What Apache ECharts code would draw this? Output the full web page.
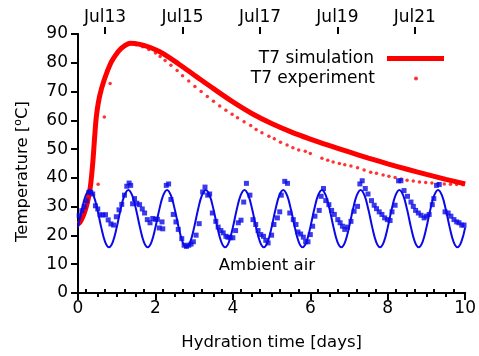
<!DOCTYPE html>
<html>
<head>
<meta charset="utf-8">
<script src="https://cdn.jsdelivr.net/npm/echarts@6/dist/echarts.min.js"></script>
<style>
  html, body { margin: 0; padding: 0; background: #fff; }
  #chart { width: 479px; height: 356px; }
</style>
</head>
<body>
<div id="chart"></div>
<script>
// T7 simulated concrete temperature (days, degC)
const simDays  = [0.00, 0.05, 0.15, 0.25, 0.32, 0.38, 0.44, 0.48, 0.56, 0.68, 0.85, 1.00, 1.10, 1.20, 1.35, 1.60, 1.85, 2.10, 2.35, 2.60, 2.85, 3.13, 3.50, 4.00, 4.50, 5.00, 5.50, 6.00, 6.50, 7.00, 7.50, 8.00, 8.50, 9.00, 9.50, 10.00];
const simTemps = [24.0, 24.5, 27.3, 31.8, 37.0, 45.0, 56.0, 62.0, 68.5, 74.2, 80.0, 83.2, 84.8, 85.9, 86.8, 86.4, 85.4, 83.9, 81.9, 79.6, 77.2, 74.5, 71.0, 66.4, 62.3, 58.9, 56.0, 53.5, 51.2, 49.0, 46.9, 44.9, 43.0, 41.2, 39.5, 37.9];

// T7 measured temperature (days, degC)
const expDays  = [0.52, 0.68, 0.83, 1.00, 1.17, 1.33, 1.50, 1.67, 1.83, 2.00, 2.12, 2.25, 2.40, 2.56, 2.70, 2.86, 3.02, 3.18, 3.34, 3.50, 3.66, 3.82, 3.98, 4.12, 4.29, 4.46, 4.60, 4.75, 4.93, 5.07, 5.23, 5.40, 5.55, 5.70, 5.87, 6.00, 6.30, 6.45, 6.59, 6.75, 6.89, 7.05, 7.22, 7.39, 7.56, 7.71, 7.88, 8.03, 8.19, 8.35, 8.50, 8.66, 8.82, 8.98, 9.14, 9.30, 9.46, 9.62, 9.78, 9.94];
const expTemps = [37.8, 61.2, 72.8, 83.0, 85.5, 86.5, 86.3, 85.6, 84.6, 83.4, 82.2, 80.8, 79.1, 77.3, 75.5, 73.7, 71.8, 70.0, 68.3, 66.6, 65.0, 63.5, 62.1, 60.9, 59.5, 58.2, 56.8, 55.7, 54.5, 53.6, 52.4, 51.4, 50.5, 49.7, 49.3, 48.5, 46.8, 46.1, 45.5, 45.0, 44.6, 44.1, 43.5, 42.7, 42.0, 41.6, 41.0, 40.6, 40.1, 39.6, 39.2, 38.9, 38.6, 38.4, 38.2, 38.0, 37.9, 37.8, 37.7, 37.6];

// Ambient air, simulated (days, degC)
const ambSimDays = [0.0,0.1,0.2,0.3,0.4,0.5,0.6,0.7,0.8,0.9,1.0,1.1,1.2,1.3,1.4,1.5,1.6,1.7,1.8,1.9,2.0,2.1,2.2,2.3,2.4,2.5,2.6,2.7,2.8,2.9,3.0,3.1,3.2,3.3,3.4,3.5,3.6,3.7,3.8,3.9,4.0,4.1,4.2,4.3,4.4,4.5,4.6,4.7,4.8,4.9,5.0,5.1,5.2,5.3,5.4,5.5,5.6,5.7,5.8,5.9,6.0,6.1,6.2,6.3,6.4,6.5,6.6,6.7,6.8,6.9,7.0,7.1,7.2,7.3,7.4,7.5,7.6,7.7,7.8,7.9,8.0,8.1,8.2,8.3,8.4,8.5,8.6,8.7,8.8,8.9,9.0,9.1,9.2,9.3,9.4,9.5,9.6,9.7,9.8,9.9,10.0];
const ambSimTemps = [
  22.8,29.0,33.9,35.8,33.9,29.0,22.8,17.8,15.9,17.8,
  22.8,29.0,33.9,35.8,33.9,29.0,22.8,17.8,15.9,17.8,
  22.8,29.0,33.9,35.8,33.9,29.0,22.8,17.8,15.9,17.8,
  22.8,29.0,33.9,35.8,33.9,29.0,22.8,17.8,15.9,17.8,
  22.8,29.0,33.9,35.8,33.9,29.0,22.8,17.8,15.9,17.8,
  22.8,29.0,33.9,35.8,33.9,29.0,22.8,17.8,15.9,17.8,
  22.8,29.0,33.9,35.8,33.9,29.0,22.8,17.8,15.9,17.8,
  22.8,29.0,33.9,35.8,33.9,29.0,22.8,17.8,15.9,17.8,
  22.8,29.0,33.9,35.8,33.9,29.0,22.8,17.8,15.9,17.8,
  22.8,29.0,33.9,35.8,33.9,29.0,22.8,17.8,15.9,17.8,
  22.8];

// Ambient air, measured (days, degC)
const ambExpDays = [0.03,0.10,0.16,0.22,0.28,0.33,0.38,0.45,0.51,0.57,0.64,0.71,0.78,0.85,0.92,0.99,1.06,1.13,1.20,1.26,1.32,1.36,1.41,1.46,1.52,1.59,1.66,1.72,1.79,1.86,1.93,2.00,2.05,2.10,2.17,2.19,2.28,2.34,2.40,2.46,2.53,2.59,2.68,2.74,2.80,2.86,2.92,2.98,3.05,3.13,3.22,3.28,3.35,3.40,3.47,3.56,3.62,3.69,3.75,3.82,3.87,3.93,4.00,4.07,4.14,4.21,4.28,4.35,4.44,4.52,4.59,4.65,4.72,4.79,4.85,4.91,5.00,5.06,5.15,5.21,5.25,5.34,5.41,5.47,5.56,5.63,5.68,5.75,5.82,5.88,5.94,6.00,6.06,6.12,6.23,6.28,6.34,6.40,6.48,6.55,6.62,6.71,6.77,6.83,6.89,6.96,7.05,7.13,7.22,7.28,7.34,7.42,7.49,7.58,7.65,7.71,7.78,7.85,7.92,7.99,8.06,8.11,8.19,8.28,8.34,8.42,8.51,8.60,8.66,8.72,8.79,8.86,8.94,9.00,9.07,9.15,9.19,9.26,9.33,9.48,9.56,9.63,9.71,9.78,9.84,9.91,9.97];
const ambExpTemps = [26.9,28.6,30.0,32.0,35.0,35.0,34.4,30.3,29.2,27.2,27.1,27.2,25.4,24.0,23.6,26.5,28.9,30.8,34.0,37.1,38.2,37.4,31.0,32.8,31.2,30.7,29.2,27.8,25.5,24.4,25.9,25.6,25.6,22.6,24.7,22.3,37.4,37.9,32.5,27.3,24.7,22.1,18.9,16.6,16.2,16.6,17.0,17.8,20.1,24.1,35.1,36.8,34.0,34.4,27.8,24.9,22.9,21.7,20.9,19.7,19.4,19.2,19.2,21.7,24.4,25.3,31.6,38.1,34.0,25.5,23.8,21.7,20.3,19.7,18.3,17.4,20.1,23.8,26.1,28.2,34.0,38.8,38.1,27.8,25.5,23.8,21.2,20.5,19.4,17.8,17.8,20.3,23.2,26.7,28.7,33.6,36.3,32.1,30.7,28.7,27.3,25.5,24.4,23.2,22.1,22.9,24.9,28.4,30.1,37.9,39.0,36.3,34.4,32.1,30.5,29.3,28.2,27.3,26.1,25.5,25.2,28.2,30.5,39.0,39.0,35.6,33.6,31.6,30.1,28.7,27.8,27.0,26.1,26.7,27.3,30.7,32.8,37.4,37.7,28.2,27.8,26.7,25.5,24.7,24.4,23.6,23.6];

// Calendar dates shown along the top edge, and where they fall in hydration days
const dateLabels = ['Jul13', 'Jul15', 'Jul17', 'Jul19', 'Jul21'];
const dateDays   = [0.7, 2.7, 4.7, 6.7, 8.7];
const dateMinorDays = [0.2, 0.7, 1.2, 1.7, 2.2, 2.7, 3.2, 3.7, 4.2, 4.7, 5.2, 5.7, 6.2, 6.7, 7.2, 7.7, 8.2, 8.7, 9.2, 9.7];

const zip = (xs, ys) => xs.map((x, i) => [x, ys[i]]);

const FONT = 'DejaVu Sans';
const RED = '#ff0000';
const BLUE = '#0a0ae8';

const chart = echarts.init(document.getElementById('chart'), null, { renderer: 'canvas' });

const axisLine = { show: true, lineStyle: { color: '#000', width: 2 } };
const tickLine = { color: '#000', width: 2 };
const tickText = { color: '#000', fontSize: 17, fontFamily: FONT };

chart.setOption({
  animation: false,
  backgroundColor: '#fff',
  grid: { left: 78, right: 11, top: 34, bottom: 62, containLabel: false },
  legend: [
    {
      data: [{ name: 'T7 simulation', icon: 'rect' }],
      orient: 'vertical', align: 'right',
      right: 35, top: 50, padding: 0,
      itemWidth: 57, itemHeight: 5, itemGap: 0,
      textStyle: Object.assign({ padding: [0, 8, 0, 0] }, tickText)
    },
    {
      data: [{ name: 'T7 experiment', icon: 'circle' }],
      orient: 'vertical', align: 'right',
      right: 61, top: 70, padding: 0,
      itemWidth: 4, itemHeight: 4, itemGap: 0,
      textStyle: Object.assign({ padding: [0, 34, 0, 0] }, tickText)
    }
  ],
  xAxis: [
    {
      type: 'value', position: 'bottom', min: 0, max: 10, interval: 2,
      axisLine: axisLine,
      axisTick: { show: true, inside: false, length: 7, lineStyle: tickLine },
      minorTick: { show: true, splitNumber: 4, length: 4, lineStyle: tickLine },
      axisLabel: Object.assign({ margin: 7 }, tickText),
      splitLine: { show: false },
      name: 'Hydration time [days]', nameLocation: 'middle', nameGap: 41,
      nameTextStyle: { color: '#000', fontSize: 16.5, fontFamily: FONT }
    },
    {
      // short ticks every half day along the calendar axis
      type: 'value', position: 'top', min: 0, max: 10,
      axisLine: axisLine,
      axisTick: { show: true, inside: false, length: 4, customValues: dateMinorDays, lineStyle: tickLine },
      axisLabel: { show: true, customValues: dateMinorDays, formatter: () => '', fontSize: 1 },
      splitLine: { show: false }
    },
    {
      // dated ticks every second day
      type: 'value', position: 'top', min: 0, max: 10,
      axisLine: { show: false },
      axisTick: { show: true, inside: false, length: 7, customValues: dateDays, lineStyle: tickLine },
      axisLabel: Object.assign({
        margin: 8,
        customValues: dateDays,
        formatter: (v) => {
          const i = dateDays.findIndex(d => Math.abs(d - v) < 1e-6);
          return i >= 0 ? dateLabels[i] : '';
        }
      }, tickText),
      splitLine: { show: false }
    }
  ],
  yAxis: [
    {
      type: 'value', position: 'left', min: 0, max: 90, interval: 10,
      axisLine: axisLine,
      axisTick: { show: true, inside: false, length: 7, lineStyle: tickLine },
      axisLabel: Object.assign({ margin: 10 }, tickText),
      splitLine: { show: false },
      name: 'Temperature [{sup|o}C]', nameLocation: 'middle', nameGap: 46, nameRotate: 90,
      nameTextStyle: {
        color: '#000', fontSize: 16.5, fontFamily: FONT,
        padding: [0, 16, 0, 0],
        rich: { sup: { fontSize: 11, fontFamily: FONT, color: '#000', padding: [0, 0, 8, 0] } }
      }
    },
    {
      type: 'value', position: 'right', min: 0, max: 90,
      axisLine: axisLine,
      axisTick: { show: false },
      axisLabel: { show: false },
      splitLine: { show: false }
    }
  ],
  series: [
    {
      name: 'T7 simulation', type: 'line', xAxisIndex: 0, yAxisIndex: 0,
      data: zip(simDays, simTemps),
      smooth: 0.35, symbol: 'none',
      lineStyle: { color: RED, width: 5 },
      itemStyle: { color: RED },
      z: 2
    },
    {
      name: 'T7 experiment', type: 'scatter', xAxisIndex: 0, yAxisIndex: 0,
      data: zip(expDays, expTemps),
      symbol: 'circle', symbolSize: 3.5,
      itemStyle: { color: RED },
      z: 3
    },
    {
      name: 'Ambient simulation', type: 'line', xAxisIndex: 0, yAxisIndex: 0,
      data: zip(ambSimDays, ambSimTemps),
      smooth: 0.4, symbol: 'none',
      lineStyle: { color: BLUE, width: 2 },
      itemStyle: { color: BLUE },
      z: 4,
      markPoint: {
        symbol: 'circle', symbolSize: 0,
        label: Object.assign({ show: true, position: 'inside', formatter: 'Ambient air' }, tickText, { fontSize: 16.5 }),
        data: [{ coord: [4.88, 9.4] }]
      }
    },
    {
      name: 'Ambient experiment', type: 'scatter', xAxisIndex: 0, yAxisIndex: 0,
      data: zip(ambExpDays, ambExpTemps),
      symbol: 'rect', symbolSize: 5,
      itemStyle: { color: BLUE },
      z: 5
    }
  ]
});
</script>
</body>
</html>
